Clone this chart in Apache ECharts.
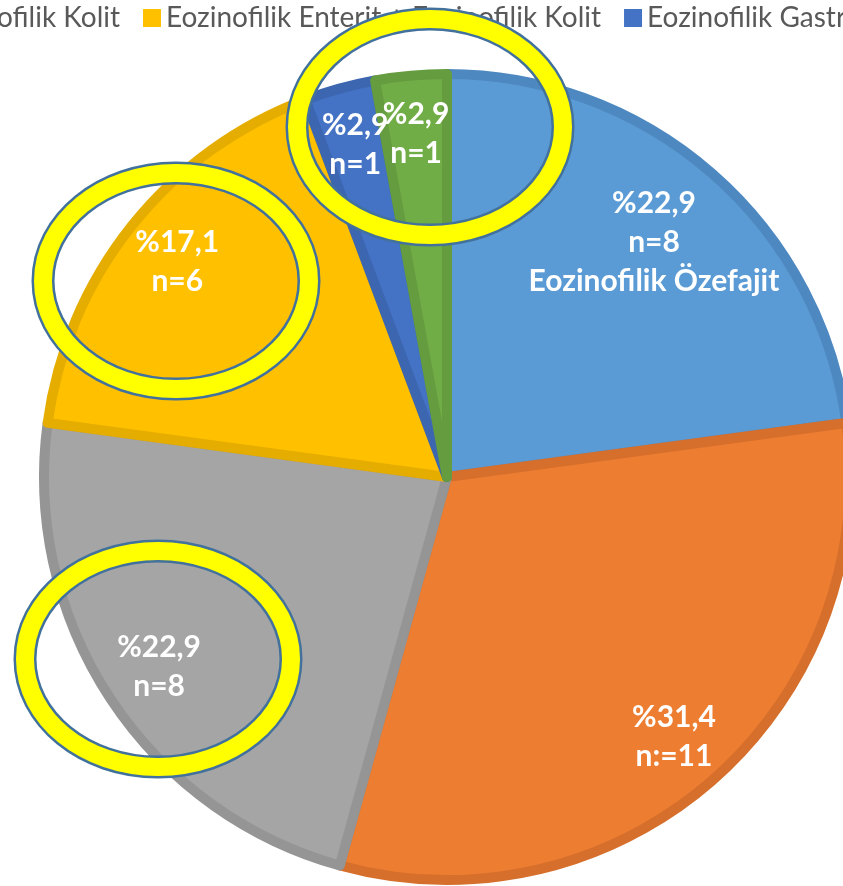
<!DOCTYPE html>
<html>
<head>
<meta charset="utf-8">
<script src="https://cdn.jsdelivr.net/npm/echarts@6/dist/echarts.min.js"></script>
<style>
  html, body { margin: 0; padding: 0; background: #fff; }
  #chart { width: 843px; height: 886px; }
</style>
</head>
<body>
<div id="chart"></div>
<script>
// data
const names = [
  'Eozinofilik Özefajit',
  'Eozinofilik Gastroenterit',
  'Eozinofilik Kolit',
  'Eozinofilik Enterit + Eozinofilik Kolit',
  'Eozinofilik Gastrit',
  'Eozinofilik Gastrit + Eozinofilik Kolit'
]
const counts = [8, 11, 8, 6, 1, 1]
const percents = ['22,9', '31,4', '22,9', '17,1', '2,9', '2,9']
const countLabels = ['n=8', 'n:=11', 'n=8', 'n=6', 'n=1', 'n=1']

// office-like palette, fill + darker inner rim
const fills = ['#5B9BD5', '#ED7D31', '#A5A5A5', '#FFC000', '#4472C4', '#70AD47']
const rims = ['#4E88C0', '#D56F2B', '#959595', '#E5AD00', '#3D66B0', '#649C3F']

const center = [447, 477]
const legendFont = 28
const legendGap = 23
const legendIcon = 18

// put the legend so the 4th swatch lands where the picture has it
const ctx = document.createElement('canvas').getContext('2d')
ctx.font = legendFont + 'px Lato'
let before = 0
for (let i = 0; i < 3; i++) before += legendIcon + 5 + ctx.measureText(names[i]).width + legendGap
const legendLeft = 143 - before

const chart = echarts.init(document.getElementById('chart'))

function ring(cx, cy) {
  return [
    { type: 'ellipse', z: 100, shape: { cx, cy, rx: 133, ry: 108 }, style: { fill: null, stroke: '#41719C', lineWidth: 23 } },
    { type: 'ellipse', z: 101, shape: { cx, cy, rx: 133, ry: 108 }, style: { fill: null, stroke: '#FFFF00', lineWidth: 18 } }
  ]
}

chart.setOption({
  animation: false,
  backgroundColor: '#fff',
  legend: {
    left: legendLeft,
    top: 4,
    width: 4000,
    padding: 0,
    itemGap: legendGap,
    itemWidth: legendIcon,
    itemHeight: legendIcon,
    icon: 'rect',
    itemStyle: { borderWidth: 0 },
    textStyle: { fontFamily: 'Lato', fontSize: legendFont, color: '#595959' },
    data: names
  },
  series: [
    {
      type: 'pie',
      center: center,
      radius: 403,
      startAngle: 90,
      clockwise: true,
      silent: true,
      label: { show: false },
      labelLine: { show: false },
      emphasis: { disabled: true },
      data: names.map((n, i) => ({
        name: n,
        value: counts[i],
        itemStyle: { color: fills[i], borderColor: rims[i], borderWidth: 10, borderJoin: 'round' }
      }))
    },
    {
      // transparent ring only used to place the labels
      type: 'pie',
      center: center,
      radius: [276, 408],
      startAngle: 90,
      clockwise: true,
      silent: true,
      avoidLabelOverlap: false,
      itemStyle: { color: 'rgba(0,0,0,0)', borderWidth: 0 },
      emphasis: { disabled: true },
      labelLine: { show: false },
      label: {
        show: true,
        position: 'inside',
        color: '#fff',
        fontFamily: 'Lato',
        fontWeight: 'bold',
        fontSize: 30,
        lineHeight: 39,
        formatter: p => {
          const lines = ['%' + percents[p.dataIndex], countLabels[p.dataIndex]]
          if (p.dataIndex === 0) lines.push(names[0])
          return lines.join('\n')
        }
      },
      labelLayout: p => (p.dataIndex === 0 ? { dx: -20, dy: 25 } : {}),
      data: names.map((n, i) => ({ name: n, value: counts[i] }))
    }
  ],
  graphic: {
    elements: [].concat(ring(430, 127), ring(176, 281), ring(158, 659))
  }
})
</script>
</body>
</html>
